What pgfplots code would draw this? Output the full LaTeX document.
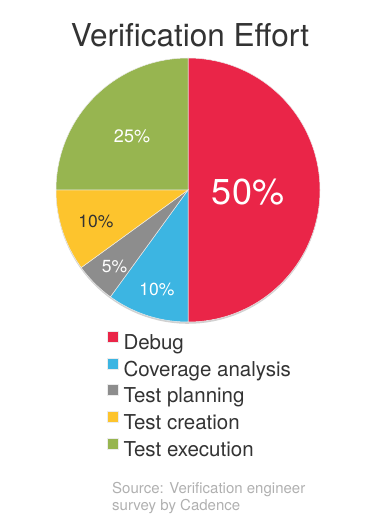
\documentclass[border=0pt]{standalone}
\usepackage{pgfplots}
\pgfplotsset{compat=1.18}
\usepackage{fontspec}
\setmainfont{TeX Gyre Heros}
\definecolor{cDebug}{HTML}{EA2548}
\definecolor{cCov}{HTML}{3CB5E2}
\definecolor{cPlan}{HTML}{8D8D8D}
\definecolor{cCre}{HTML}{FDC42D}
\definecolor{cExe}{HTML}{97B550}
\definecolor{txt}{HTML}{333333}
\definecolor{src}{HTML}{B0B0B0}
% shares in percent
\def\vDebug{50}
\def\vCov{10}
\def\vPlan{5}
\def\vCre{10}
\def\vExe{25}
\pgfmathsetmacro\aA{90}
\pgfmathsetmacro\aB{\aA-3.6*\vDebug}
\pgfmathsetmacro\aC{\aB-3.6*\vCov}
\pgfmathsetmacro\aD{\aC-3.6*\vPlan}
\pgfmathsetmacro\aE{\aD-3.6*\vCre}
\pgfmathsetmacro\aF{\aE-3.6*\vExe}
\def\cx{188}
\def\cy{190}
\def\R{132}
\begin{document}
\begin{tikzpicture}
\begin{axis}[
  width=380pt, height=526pt, scale only axis,
  xmin=0, xmax=380, ymin=0, ymax=526, y dir=reverse,
  hide axis, clip=false,
  legend cell align=left,
  legend image code/.code={\fill[#1] (0pt,2pt) rectangle (11pt,13pt);},
  legend style={at={(axis cs:107,331)}, anchor=north west, draw=none, fill=none,
    font=\fontsize{20.5}{24}\selectfont, text=txt, inner sep=0pt, outer sep=0pt,
    row sep=3.7pt, column sep=5pt,
    nodes={inner sep=0pt, text height=15pt, text depth=4.5pt}},
]
\addplot[draw=none, forget plot] coordinates {(0,0) (380,526)};
% faint shadow
\addplot[forget plot, fill=black!18, draw=none, domain=0:360, samples=120, variable=\t]
  ({\cx+\R*cos(\t)},{\cy+1.8-\R*sin(\t)}) -- cycle;
\addplot[fill=cDebug, draw=white!85!gray, line width=0.5pt, domain=\aA:\aB, samples=91, variable=\t]
  ({\cx+\R*cos(\t)},{\cy-\R*sin(\t)}) -- (axis cs:\cx,\cy) -- cycle;
\addplot[fill=cCov, draw=white!85!gray, line width=0.5pt, domain=\aB:\aC, samples=30, variable=\t]
  ({\cx+\R*cos(\t)},{\cy-\R*sin(\t)}) -- (axis cs:\cx,\cy) -- cycle;
\addplot[fill=cPlan, draw=white!85!gray, line width=0.5pt, domain=\aC:\aD, samples=20, variable=\t]
  ({\cx+\R*cos(\t)},{\cy-\R*sin(\t)}) -- (axis cs:\cx,\cy) -- cycle;
\addplot[fill=cCre, draw=white!85!gray, line width=0.5pt, domain=\aD:\aE, samples=30, variable=\t]
  ({\cx+\R*cos(\t)},{\cy-\R*sin(\t)}) -- (axis cs:\cx,\cy) -- cycle;
\addplot[fill=cExe, draw=white!85!gray, line width=0.5pt, domain=\aE:\aF, samples=60, variable=\t]
  ({\cx+\R*cos(\t)},{\cy-\R*sin(\t)}) -- (axis cs:\cx,\cy) -- cycle;
\legend{Debug, Coverage analysis, Test planning, Test creation, Test execution}
% title
\node[anchor=base, text=txt, font=\fontsize{31.5}{36}\selectfont, inner sep=0pt] at (axis cs:190,47) {Verification Effort};
% slice labels
\node[anchor=base, text=white, font=\fontsize{36}{40}\selectfont, inner sep=0pt] at (axis cs:248,205) {50\%};
\node[anchor=base, text=white, font=\fontsize{18}{20}\selectfont, inner sep=0pt] at (axis cs:132,143) {25\%};
\node[anchor=base, text=txt, font=\fontsize{17.5}{20}\selectfont, inner sep=0pt] at (axis cs:96,228) {10\%};
\node[anchor=base, text=white, font=\fontsize{17.5}{20}\selectfont, inner sep=0pt] at (axis cs:114.5,272) {5\%};
\node[anchor=base, text=white, font=\fontsize{17.5}{20}\selectfont, inner sep=0pt] at (axis cs:157,295) {10\%};
% source
\node[anchor=base west, text=src, font=\fontsize{15}{17}\selectfont, inner sep=0pt] at (axis cs:112,493) {Source: Verification engineer};
\node[anchor=base west, text=src, font=\fontsize{15}{17}\selectfont, inner sep=0pt] at (axis cs:112,510) {survey by Cadence};
\end{axis}
\end{tikzpicture}
\end{document}
